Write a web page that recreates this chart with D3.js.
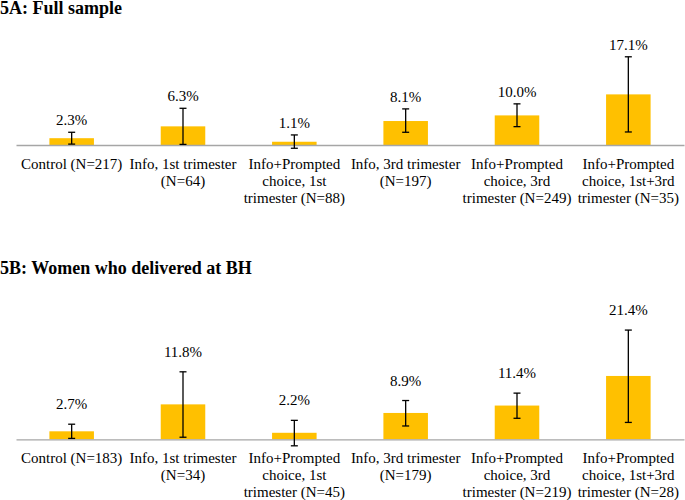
<!DOCTYPE html>
<html><head><meta charset="utf-8"><script src="https://cdn.jsdelivr.net/npm/d3@7"></script></head>
<body style="margin:0">
<svg id="chart" width="685" height="500" style="display:block"></svg>
<script>
// ---- Data ----
const categoriesA = [
  ["Control (N=217)"],
  ["Info, 1st trimester", "(N=64)"],
  ["Info+Prompted", "choice, 1st", "trimester (N=88)"],
  ["Info, 3rd trimester", "(N=197)"],
  ["Info+Prompted", "choice, 3rd", "trimester (N=249)"],
  ["Info+Prompted", "choice, 1st+3rd", "trimester (N=35)"]
];
const valuesA = [2.3, 6.3, 1.1, 8.1, 10.0, 17.1];
const lowA    = [0.3, 0.2, -1.1, 4.3, 6.2, 4.4];
const highA   = [4.3, 12.4, 3.4, 12.2, 13.9, 29.8];

const categoriesB = [
  ["Control (N=183)"],
  ["Info, 1st trimester", "(N=34)"],
  ["Info+Prompted", "choice, 1st", "trimester (N=45)"],
  ["Info, 3rd trimester", "(N=179)"],
  ["Info+Prompted", "choice, 3rd", "trimester (N=219)"],
  ["Info+Prompted", "choice, 1st+3rd", "trimester (N=28)"]
];
const valuesB = [2.7, 11.8, 2.2, 8.9, 11.4, 21.4];
const lowB    = [0.3, 0.7, -2.2, 4.5, 7.1, 5.7];
const highB   = [5.1, 22.8, 6.4, 13.1, 15.6, 36.9];

const titleA = "5A: Full sample";
const titleB = "5B: Women who delivered at BH";

// ---- Drawing ----
const FONT = "Liberation Serif";
const svg = d3.select("#chart");
const fmt = v => v.toFixed(1) + "%";

function panel(opts) {
  const { title, titleY, baseline, cats, vals, lo, hi, labelGap } = opts;
  const g = svg.append("g");
  const idx = d3.range(vals.length);

  const x = d3.scaleBand().domain(idx).range([16, 684])
    .paddingInner(0.6).paddingOuter(0.3);
  const y = d3.scaleLinear().domain([0, 40]).range([baseline, baseline - 118.4]);

  // bars
  g.selectAll("rect.bar").data(idx).join("rect")
    .attr("class", "bar")
    .attr("x", i => x(i))
    .attr("width", x.bandwidth())
    .attr("y", i => y(vals[i]))
    .attr("height", i => y(0) - y(vals[i]))
    .attr("fill", "#FFC000");

  // axis line (no ticks / no tick labels)
  const axis = g.append("g")
    .attr("transform", `translate(0,${y(0)})`)
    .call(d3.axisBottom(x).tickSize(0).tickSizeOuter(0).tickFormat(""));
  axis.selectAll(".tick").remove();
  axis.select(".domain").attr("stroke", "#a6a6a6").attr("stroke-width", 1.3);

  // error bars
  const cx = i => x(i) + x.bandwidth() / 2;
  const eb = g.selectAll("g.err").data(idx).join("g").attr("class", "err")
    .attr("stroke", "#000").attr("stroke-width", 1.3);
  eb.append("line")
    .attr("x1", cx).attr("x2", cx)
    .attr("y1", i => y(lo[i])).attr("y2", i => y(hi[i]));
  eb.append("line")
    .attr("x1", i => cx(i) - 3.5).attr("x2", i => cx(i) + 3.5)
    .attr("y1", i => y(lo[i])).attr("y2", i => y(lo[i]));
  eb.append("line")
    .attr("x1", i => cx(i) - 3.5).attr("x2", i => cx(i) + 3.5)
    .attr("y1", i => y(hi[i])).attr("y2", i => y(hi[i]));

  // title
  svg.append("text")
    .attr("x", 0).attr("y", titleY)
    .attr("font-family", FONT)
    .attr("font-size", 18).attr("font-weight", "bold")
    .text(title);

  // value labels
  idx.forEach(i => {
    svg.append("text")
      .attr("x", cx(i))
      .attr("y", y(hi[i]) - labelGap)
      .attr("text-anchor", "middle")
      .attr("font-family", FONT)
      .attr("font-size", 15)
      .text(fmt(vals[i]));
  });

  // category labels, one text per line
  idx.forEach(i => {
    cats[i].forEach((line, k) => {
      svg.append("text")
        .attr("x", cx(i))
        .attr("y", y(0) + 23.5 + k * 17)
        .attr("text-anchor", "middle")
        .attr("font-family", FONT)
        .attr("font-size", 15)
        .text(line);
    });
  });
}

panel({ title: titleA, titleY: 14, baseline: 145, cats: categoriesA,
        vals: valuesA, lo: lowA, hi: highA, labelGap: 7 });
panel({ title: titleB, titleY: 273.5, baseline: 439.3, cats: categoriesB,
        vals: valuesB, lo: lowB, hi: highB, labelGap: 15 });
</script>
</body>
</html>
